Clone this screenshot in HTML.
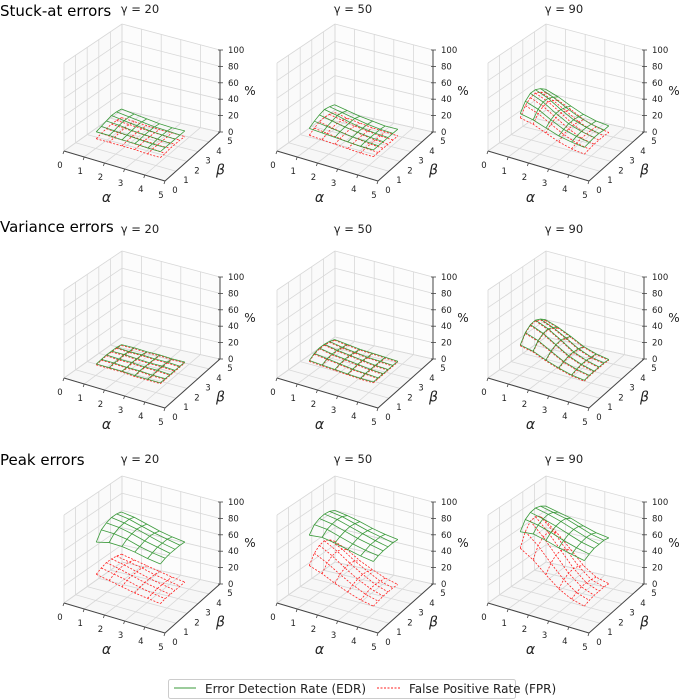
<!DOCTYPE html>
<html><head><meta charset="utf-8">
<style>
body{margin:0;background:#fff;}
svg{display:block;font-family:"DejaVu Sans","Liberation Sans",sans-serif;}
</style></head>
<body>
<svg id="chart" width="685" height="700" viewBox="0 0 685 700">
<text x="0" y="16" font-size="15" fill="#000">Stuck-at errors</text>
<text x="0" y="232" font-size="15" fill="#000">Variance errors</text>
<text x="0" y="465" font-size="15" fill="#000">Peak errors</text>
<g>
<rect x="168.5" y="679.5" width="347" height="19" rx="2" fill="#fff" stroke="#ccc"/>
<line x1="174" y1="688" x2="196" y2="688" stroke="#3a9a3a" stroke-width="1"/>
<text x="205" y="693" font-size="12" fill="#222">Error Detection Rate (EDR)</text>
<line x1="377" y1="688" x2="400" y2="688" stroke="#ff2020" stroke-width="1" stroke-dasharray="2,1.5"/>
<text x="409" y="693" font-size="12" fill="#222">False Positive Rate (FPR)</text>
</g>
</svg>
<script>
const gammas = [20, 50, 90];
const rowNames = ["stuck-at", "variance", "peak"];
const zTicks = [0, 20, 40, 60, 80, 100];
const abTicks = [0, 1, 2, 3, 4, 5];
const meshAlpha = [0.8, 1.44, 2.08, 2.72, 3.36, 4.0];
const meshBeta = [1.4, 1.84, 2.28, 2.72, 3.16, 3.6];
// rows = alpha index, cols = beta index
const edr_s20 = [[14,16,18,20,20,19],[14,15,17,18,18,17],[13,14,15,16,16,15],[13,13,14,14,14,13],[12,12,13,13,13,12],[12,12,12,12,12,12]];
const fpr_s20 = [[6,8,9,10,10,9],[6,7,8,9,9,8],[6,7,8,8,8,7],[6,6,7,7,7,6],[5,6,6,6,6,6],[5,5,6,6,6,5]];
const edr_s50 = [[18,22,25,27,26,24],[17,20,22,24,23,21],[16,18,19,20,20,18],[15,16,17,17,17,16],[14,15,15,15,15,14],[14,14,14,14,14,14]];
const fpr_s50 = [[10,14,17,18,17,15],[9,12,14,15,14,12],[8,10,11,12,11,10],[7,8,9,9,9,8],[6,7,7,7,7,7],[6,6,6,6,6,6]];
const edr_s90 = [[35,45,50,50,47,42],[32,40,44,44,41,37],[27,32,35,35,33,30],[22,25,27,27,26,24],[19,21,22,22,21,20],[17,18,19,19,18,18]];
const fpr_s90 = [[30,40,45,46,43,38],[27,35,39,40,37,33],[21,27,30,31,29,26],[15,19,21,21,20,18],[11,13,14,14,14,13],[9,10,11,11,11,10]];
const edr_v20 = [[8,9,10,10,10,9],[8,9,9,10,9,9],[8,8,9,9,9,8],[7,8,8,8,8,8],[7,7,8,8,8,7],[7,7,7,7,7,7]];
const fpr_v20 = [[7,8,9,9,9,8],[7,8,8,9,8,8],[7,7,8,8,8,7],[6,7,7,7,7,7],[6,6,7,7,7,6],[6,6,6,6,6,6]];
const edr_v50 = [[12,16,18,18,17,15],[11,14,15,15,14,13],[10,12,13,13,12,11],[9,10,11,11,10,10],[8,9,9,9,9,9],[8,8,8,8,8,8]];
const fpr_v50 = [[11,15,17,17,16,14],[10,13,14,14,13,12],[9,11,12,12,11,10],[8,9,10,10,9,9],[7,8,8,8,8,8],[7,7,7,7,7,7]];
const edr_v90 = [[30,40,45,46,43,38],[27,35,39,40,37,33],[21,27,30,31,29,26],[16,19,21,21,20,18],[12,14,15,15,14,13],[10,11,11,11,11,10]];
const fpr_v90 = [[29,39,44,45,42,37],[26,34,38,39,36,32],[20,26,29,30,28,25],[15,18,20,20,19,17],[11,13,14,14,13,12],[9,10,10,10,10,9]];
const edr_p20 = [[62,72,76,78,78,76],[66,72,75,76,76,74],[66,70,72,73,72,70],[64,66,68,69,68,66],[61,63,65,65,65,63],[59,61,62,62,62,61]];
const fpr_p20 = [[25,28,30,30,29,27],[22,25,27,27,26,24],[19,22,23,23,23,21],[16,18,19,19,19,18],[14,15,16,16,16,15],[12,13,13,13,13,13]];
const edr_p50 = [[70,78,81,82,81,78],[72,77,79,80,79,76],[70,73,75,76,75,73],[67,69,71,72,71,69],[64,66,68,68,68,66],[62,64,65,65,65,64]];
const fpr_p50 = [[35,45,50,51,48,42],[30,38,42,43,41,36],[23,29,32,33,31,27],[17,21,23,24,23,20],[12,14,16,16,15,14],[9,10,11,11,11,10]];
const edr_p90 = [[74,84,88,89,87,83],[76,82,85,86,84,80],[73,78,81,82,81,77],[69,73,76,77,76,72],[66,69,71,72,71,68],[63,66,68,68,68,66]];
const fpr_p90 = [[55,70,78,79,75,66],[46,58,64,65,62,54],[33,42,47,48,45,40],[21,27,30,31,29,25],[13,16,18,18,17,15],[9,11,12,12,12,11]];
const edrData = [[edr_s20,edr_s50,edr_s90],[edr_v20,edr_v50,edr_v90],[edr_p20,edr_p50,edr_p90]];
const fprData = [[fpr_s20,fpr_s50,fpr_s90],[fpr_v20,fpr_v50,fpr_v90],[fpr_p20,fpr_p50,fpr_p90]];

const NS = "http://www.w3.org/2000/svg";
const svg = document.getElementById("chart");
const colOff = [0, 213, 424];
const rowOff = [0, 227, 452];
const titleY = [13, 233, 463];
function mk(tag, attrs, parent){const e=document.createElementNS(NS,tag);for(const k in attrs)e.setAttribute(k,attrs[k]);parent.appendChild(e);return e;}

for (let r=0;r<3;r++) for (let c=0;c<3;c++){
  const ox=colOff[c], oy=rowOff[r];
  const A=[64+ox,151+oy], B=[165+ox,181+oy], C=[220+ox,132+oy], D=[122+ox,110+oy];
  const proj=(a,b,z)=>{const u=a/5,v=b/5;
    const x=(1-u)*(1-v)*A[0]+u*(1-v)*B[0]+u*v*C[0]+(1-u)*v*D[0];
    const y=(1-u)*(1-v)*A[1]+u*(1-v)*B[1]+u*v*C[1]+(1-u)*v*D[1];
    const zs=88-4*u-2*v;
    return [x, y-z/100*zs];};
  const g=mk("g",{},svg);
  
  
  const line=(p,q,st,w,dash)=>{const l=mk("line",{x1:p[0],y1:p[1],x2:q[0],y2:q[1],stroke:st,"stroke-width":w},g);if(dash)l.setAttribute("stroke-dasharray",dash);return l;};
  const poly=(pts,fill)=>mk("polygon",{points:pts.map(p=>p.join(",")).join(" "),fill:fill},g);
  poly([proj(0,0,0),proj(5,0,0),proj(5,5,0),proj(0,5,0)],"#f7f7f7");
  poly([proj(0,0,0),proj(0,5,0),proj(0,5,100),proj(0,0,100)],"#fafafa");
  poly([proj(0,5,0),proj(5,5,0),proj(5,5,100),proj(0,5,100)],"#fcfcfc");
  const gc="#d8d8d8";
  for(const t of abTicks){
    line(proj(t,0,0),proj(t,5,0),gc,0.8);
    line(proj(t,5,0),proj(t,5,100),gc,0.8);
    line(proj(0,t,0),proj(5,t,0),gc,0.8);
    line(proj(0,t,0),proj(0,t,100),gc,0.8);
  }
  for(const z of zTicks){
    line(proj(0,0,z),proj(0,5,z),gc,0.8);
    line(proj(0,5,z),proj(5,5,z),gc,0.8);
  }
  line(proj(0,0,0),proj(5,0,0),"#444",1);
  line(proj(5,0,0),proj(5,5,0),"#444",1);
  line(proj(5,5,0),proj(5,5,100),"#444",1);
  const txt=(x,y,s,size,anchor,name)=>{const t=mk("text",{x:x,y:y,"font-size":size,fill:"#222","text-anchor":anchor||"middle"},g);t.textContent=s;return t;};
  for(const t of abTicks){
    const p=proj(t,0,0); txt(p[0]-4,p[1]+17,t,8.5,"middle","alpha-tick");
    line(p,[p[0]-1,p[1]+3],"#444",0.8);
    const q=proj(5,t,0); txt(q[0]+10,q[1]+12,t,8.5,"middle","beta-tick");
  }
  for(const z of zTicks){
    const p=proj(5,5,z); line([p[0]-2,p[1]],[p[0]+3,p[1]],"#444",0.8);
    txt(p[0]+8,p[1]+3,z,8.5,"start","z-tick");
  }
  const am=proj(2.5,0,0); txt(am[0]-8,am[1]+36,"α",14,"middle","alpha-axis-title").setAttribute("font-style","italic");
  const bm=proj(5,2.5,0); txt(bm[0]+28,bm[1]+18,"β",14,"middle","beta-axis-title").setAttribute("font-style","italic");
  const zm=proj(5,5,50); txt(zm[0]+30,zm[1]+4,"%",12,"middle","z-axis-title");
  txt(140+ox,titleY[r],"γ = "+gammas[c],11.5,"middle","subplot-title");
  const surf=(data,color,dash,nm)=>{
    const sg=mk("g",{},g);
    
    
    for(let i=0;i<meshAlpha.length;i++){
      const pts=meshBeta.map((b,j)=>proj(meshAlpha[i],b,data[i][j]).join(",")).join(" ");
      const pl=mk("polyline",{points:pts,fill:"none",stroke:color,"stroke-width":0.8},sg);
      if(dash)pl.setAttribute("stroke-dasharray",dash);
    }
    for(let j=0;j<meshBeta.length;j++){
      const pts=meshAlpha.map((a,i)=>proj(a,meshBeta[j],data[i][j]).join(",")).join(" ");
      const pl=mk("polyline",{points:pts,fill:"none",stroke:color,"stroke-width":0.8},sg);
      if(dash)pl.setAttribute("stroke-dasharray",dash);
    }
  };
  surf(fprData[r][c],"#ff2020","2,1.5","fpr-surface");
  surf(edrData[r][c],"#3a9a3a",null,"edr-surface");
}
</script>
</body></html>
